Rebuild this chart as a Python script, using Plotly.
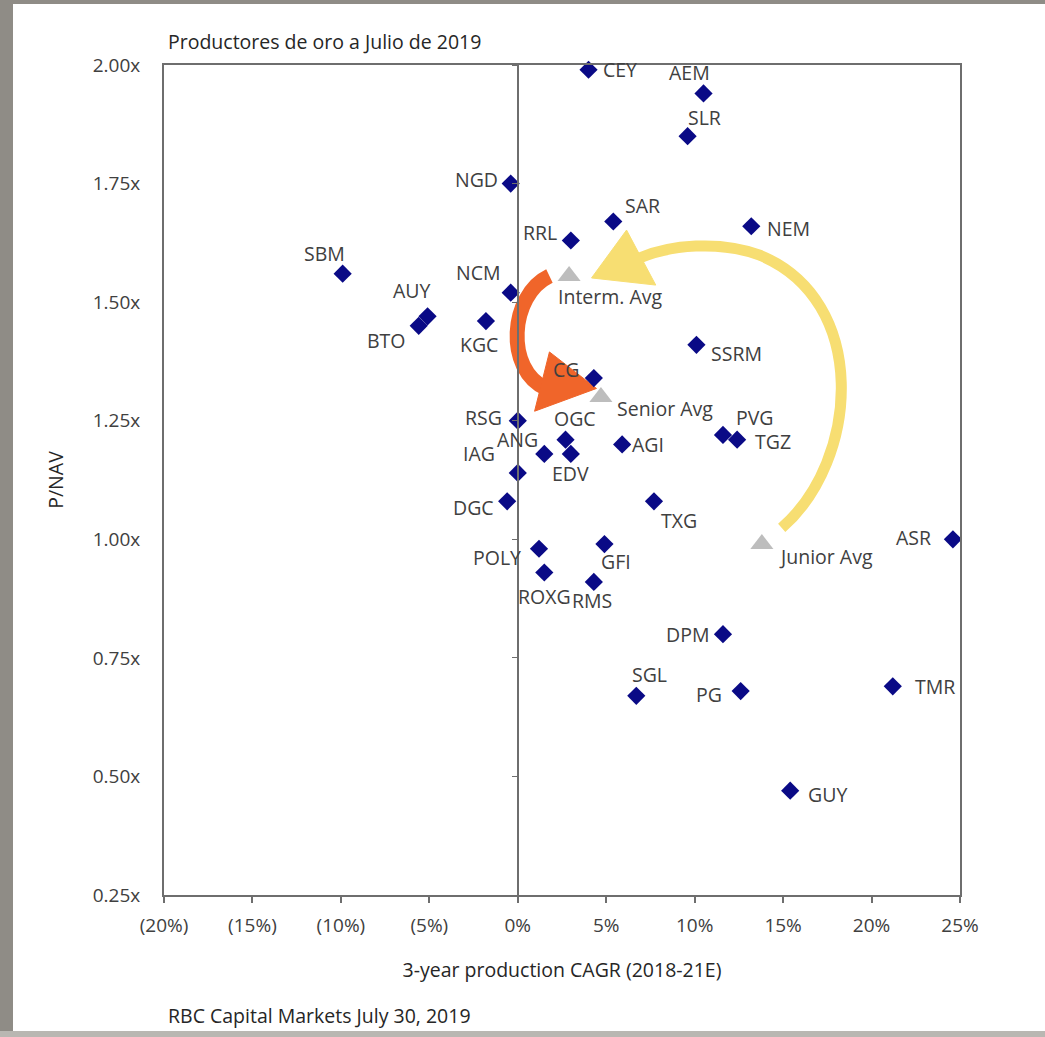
import plotly.graph_objects as go

# ---------------- data ----------------
tickers = ["CEY", "AEM", "SLR", "NGD", "SAR", "RRL", "NEM", "SBM", "NCM", "AUY",
           "BTO", "KGC", "SSRM", "CG", "RSG", "OGC", "ANG", "EDV", "AGI", "PVG",
           "TGZ", "IAG", "DGC", "TXG", "POLY", "ROXG", "RMS", "GFI", "ASR", "DPM",
           "SGL", "PG", "TMR", "GUY"]
cagr = [4.0, 10.5, 9.6, -0.4, 5.4, 3.0, 13.2, -9.9, -0.4, -5.1,
        -5.6, -1.8, 10.1, 4.3, 0.0, 2.7, 1.5, 3.0, 5.9, 11.6,
        12.4, 0.0, -0.6, 7.7, 1.2, 1.5, 4.3, 4.9, 24.6, 11.6,
        6.7, 12.6, 21.2, 15.4]
pnav = [1.99, 1.94, 1.85, 1.75, 1.67, 1.63, 1.66, 1.56, 1.52, 1.47,
        1.45, 1.46, 1.41, 1.34, 1.25, 1.21, 1.18, 1.18, 1.20, 1.22,
        1.21, 1.14, 1.08, 1.08, 0.98, 0.93, 0.91, 0.99, 1.00, 0.80,
        0.67, 0.68, 0.69, 0.47]

avg_names = ["Interm. Avg", "Senior Avg", "Junior Avg"]
avg_cagr = [2.9, 4.7, 13.8]
avg_pnav = [1.555, 1.30, 0.99]

x_ticks = [-20, -15, -10, -5, 0, 5, 10, 15, 20, 25]
x_ticklabels = ["(20%)", "(15%)", "(10%)", "(5%)", "0%", "5%", "10%", "15%", "20%", "25%"]
y_ticks = [0.25, 0.50, 0.75, 1.00, 1.25, 1.50, 1.75, 2.00]
y_ticklabels = ["0.25x", "0.50x", "0.75x", "1.00x", "1.25x", "1.50x", "1.75x", "2.00x"]

# label offsets in pixels (style): label centre relative to its marker, (dx, dy) with dy downwards
label_offset = {
    "CEY": (31, 0), "AEM": (-14, -21), "SLR": (17, -19), "NGD": (-34, -4),
    "SAR": (29, -16), "RRL": (-31, -8), "NEM": (37, 2), "SBM": (-18, -20),
    "NCM": (-32, -20), "AUY": (-16, -26), "BTO": (-32, 15), "KGC": (-7, 23),
    "SSRM": (40, 9), "CG": (-28, -9), "RSG": (-34, -3), "OGC": (9, -21),
    "ANG": (-27, -14), "EDV": (0, 20), "AGI": (26, 0), "PVG": (32, -17),
    "TGZ": (36, 2), "IAG": (-39, -19), "DGC": (-34, 6), "TXG": (25, 19),
    "POLY": (-42, 9), "ROXG": (0, 24), "RMS": (-2, 19), "GFI": (12, 17),
    "ASR": (-39, -2), "DPM": (-35, 0), "SGL": (13, -21), "PG": (-32, 3),
    "TMR": (42, 0), "GUY": (37, 4),
    "Interm. Avg": (41, 20), "Senior Avg": (64, 11), "Junior Avg": (64, 12),
}

# ---------------- layout geometry ----------------
W, H = 1045, 1037
ML, MR, MT, MB = 164, 85, 65, 142
PW, PH = W - ML - MR, H - MT - MB

def px(xp):
    return (xp - ML) / PW

def py(yp):
    return (H - MB - yp) / PH

FONT = "Open Sans, Lato, sans-serif"
LABEL_FONT = dict(family=FONT, size=19.5, color="#404040")
NAVY = "#0A0A86"
ORANGE = "#F0652A"
YELLOW = "#F7DE72"
GREY_TRI = "#BDBDBD"

fig = go.Figure()

fig.add_trace(go.Scatter(
    x=cagr, y=pnav, mode="markers", text=tickers,
    marker=dict(symbol="diamond", size=14, color=NAVY),
    showlegend=False, hoverinfo="text+x+y", cliponaxis=False,
))

fig.add_trace(go.Scatter(
    x=avg_cagr, y=avg_pnav, mode="markers", text=avg_names,
    marker=dict(symbol="triangle-up", size=20, color=GREY_TRI),
    showlegend=False, hoverinfo="text+x+y",
))

# secondary y axis drawn at x = 0 (crossing line with ticks)
fig.add_trace(go.Scatter(x=[0], y=[1.0], yaxis="y2", mode="markers",
                         marker=dict(opacity=0), showlegend=False, hoverinfo="skip"))

annotations = []
for name, xv, yv in list(zip(tickers, cagr, pnav)) + list(zip(avg_names, avg_cagr, avg_pnav)):
    dx, dy = label_offset[name]
    annotations.append(dict(text=name, x=xv, y=yv, xref="x", yref="y",
                            xanchor="center", yanchor="middle", showarrow=False,
                            xshift=dx, yshift=-dy, font=LABEL_FONT, borderpad=0))

shapes = []
# orange arrow (Interm. -> Senior)
shapes.append(dict(type="path", xref="x", yref="y", layer="below",
                   path="M 1.79 1.555 C -0.47 1.515, -0.75 1.357, 1.6 1.318",
                   line=dict(color=ORANGE, width=15)))
shapes.append(dict(type="path", xref="x", yref="y", layer="below",
                   path="M 1.79 1.395 L 4.45 1.318 L 0.95 1.270 Z",
                   fillcolor=ORANGE, line=dict(color=ORANGE, width=1)))
# yellow arrow (Junior -> Interm.)
shapes.append(dict(type="path", xref="x", yref="y", layer="below",
                   path="M 14.92 1.024 C 19.33 1.167, 19.9 1.504, 13.68 1.599 "
                        "C 11.41 1.631, 8.58 1.620, 6.88 1.593",
                   line=dict(color=YELLOW, width=11)))
shapes.append(dict(type="path", xref="x", yref="y", layer="below",
                   path="M 4.17 1.551 L 6.15 1.652 L 7.8 1.536 Z",
                   fillcolor=YELLOW, line=dict(color=YELLOW, width=1)))

# grey frame strips of the screenshot
GREY = "#8F8C86"
shapes.append(dict(type="rect", xref="paper", yref="paper", layer="below",
                   x0=px(0), x1=px(13), y0=py(H), y1=py(0),
                   fillcolor=GREY, line=dict(width=0)))
shapes.append(dict(type="rect", xref="paper", yref="paper", layer="below",
                   x0=px(0), x1=px(W), y0=py(4), y1=py(0),
                   fillcolor=GREY, line=dict(width=0)))
shapes.append(dict(type="rect", xref="paper", yref="paper", layer="below",
                   x0=px(0), x1=px(W), y0=py(H), y1=py(1031),
                   fillcolor="#B9B7B2", line=dict(width=0)))

TXT_FONT = dict(family=FONT, size=19.5, color="#262626")
annotations += [
    dict(text="Productores de oro a Julio de 2019", xref="paper", yref="paper",
         x=px(166), y=py(42), xanchor="left", yanchor="middle", showarrow=False,
         font=TXT_FONT),
    dict(text="RBC Capital Markets July 30, 2019", xref="paper", yref="paper",
         x=px(166), y=py(1015), xanchor="left", yanchor="middle", showarrow=False,
         font=TXT_FONT),
]

AX_FONT = dict(family=FONT, size=19, color="#404040")

fig.update_layout(
    width=W, height=H,
    margin=dict(l=ML, r=MR, t=MT, b=MB, pad=0),
    paper_bgcolor="white", plot_bgcolor="white",
    shapes=shapes, annotations=annotations,
    xaxis=dict(range=[-20, 25], tickvals=x_ticks, ticktext=x_ticklabels,
               showgrid=False, zeroline=False, showline=True, linecolor="#6E6E6E",
               linewidth=2, mirror=True, ticks="outside", ticklen=6,
               tickcolor="#6E6E6E", tickwidth=1.5, tickfont=AX_FONT,
               ticklabelstandoff=6,
               title=dict(text="3-year production CAGR (2018-21E)", standoff=27,
                          font=TXT_FONT)),
    yaxis=dict(range=[0.25, 2.0], tickvals=y_ticks, ticktext=y_ticklabels,
               showgrid=False, zeroline=False, showline=True, linecolor="#6E6E6E",
               linewidth=2, mirror=True, ticks="", tickfont=AX_FONT,
               ticklabelstandoff=18,
               title=dict(text="P/NAV", standoff=24, font=TXT_FONT)),
    yaxis2=dict(range=[0.25, 2.0], overlaying="y", anchor="free", position=20 / 45,
                side="left", tickvals=y_ticks, showticklabels=False, showgrid=False,
                zeroline=False, showline=True, linecolor="#6E6E6E", linewidth=1.5,
                ticks="outside", ticklen=5, tickcolor="#6E6E6E"),
)

fig.write_html("out.html")
